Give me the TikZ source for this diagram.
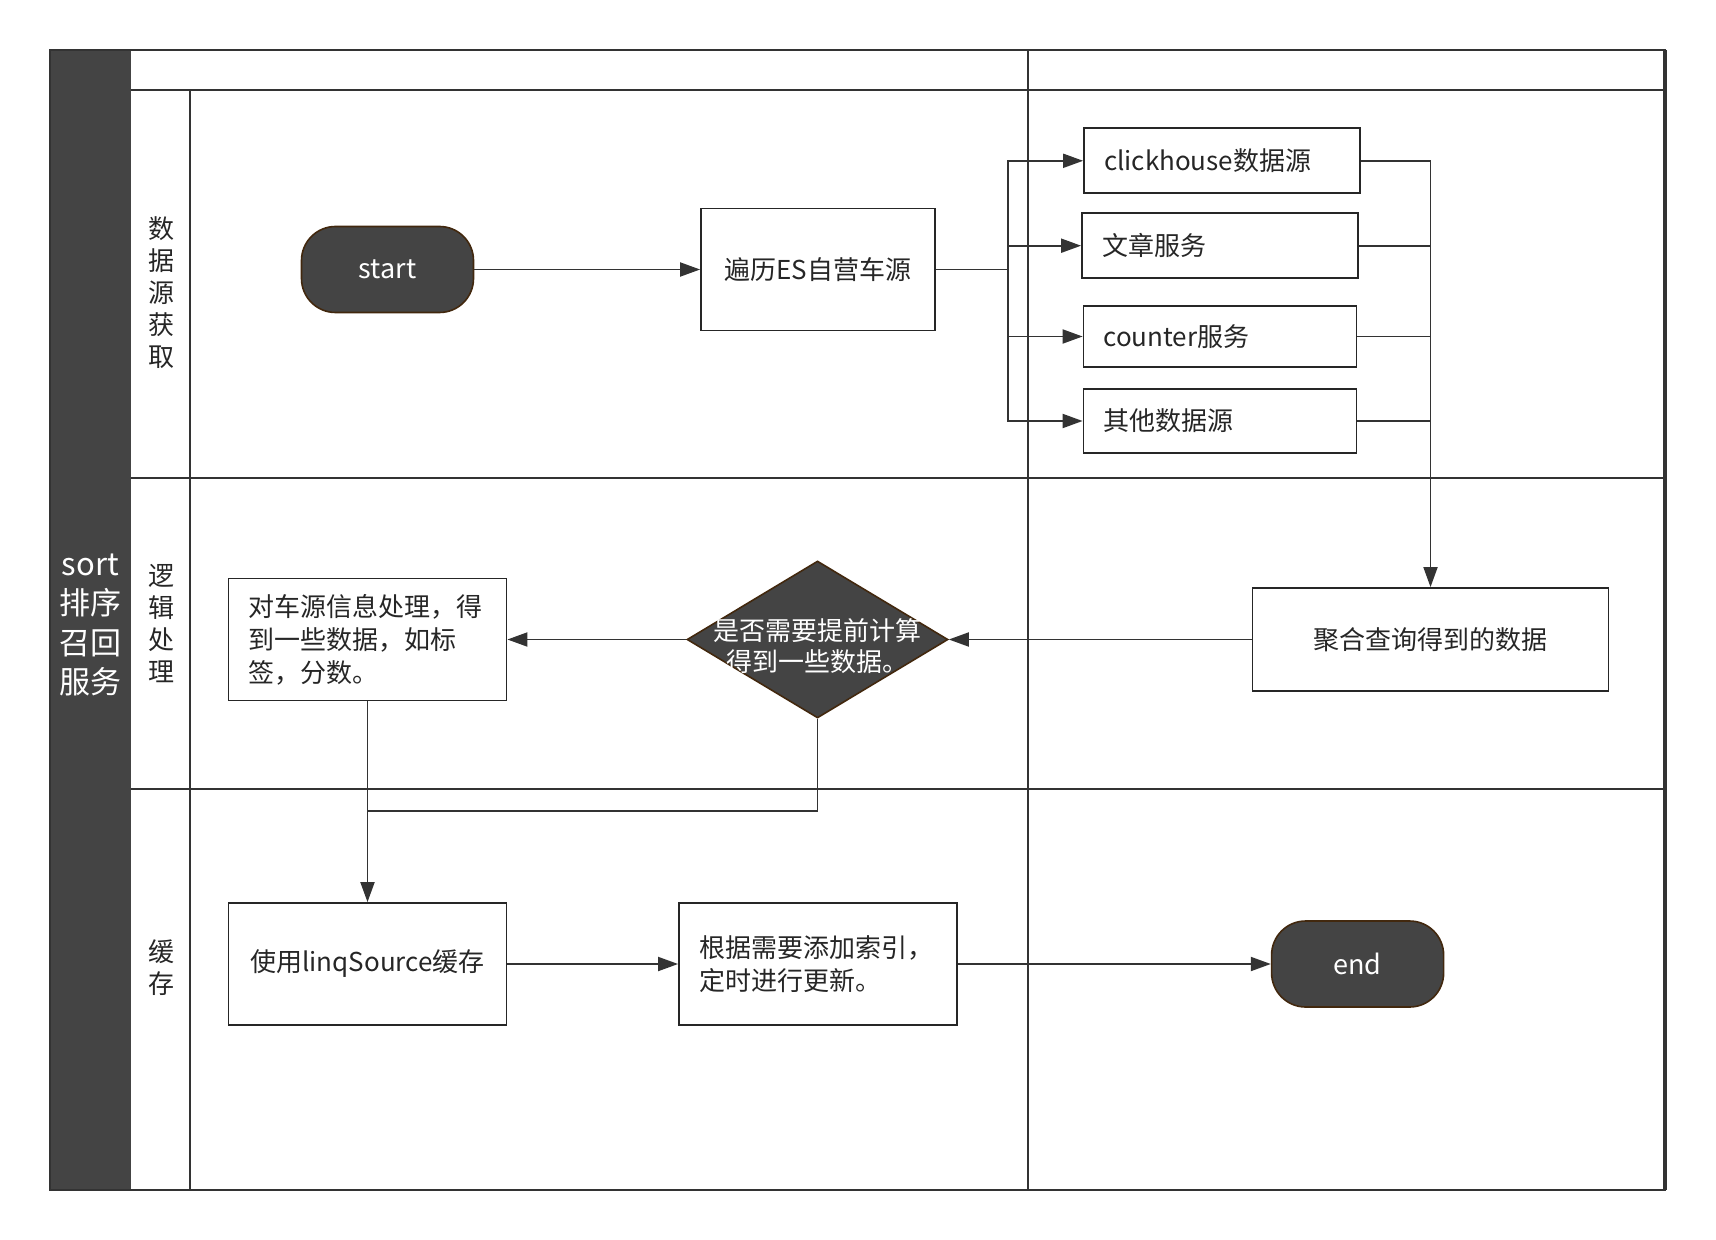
\documentclass[tikz,border=0pt]{standalone}
\usepackage{fontspec}
\setmainfont{Noto Sans CJK SC}
\usepackage{tikz}
\usetikzlibrary{arrows.meta,shapes,positioning}
\usepackage{xcolor}
\definecolor{sldark}{RGB}{68,68,68}
\definecolor{slline}{RGB}{51,51,51}
\definecolor{slbrown}{RGB}{66,40,14}
\definecolor{sltext}{RGB}{38,38,38}
\tikzstyle{frame} = [line width=1pt,color=slline]
\tikzstyle{link} = [line width=0.95pt,color=black!80]
\tikzstyle{arrow} = [link,-{Triangle[length=10pt,width=7pt]}]
\tikzstyle{process} = [rectangle, draw=black!85, line width=0.9pt, text=sltext, font=\fontsize{13}{16.5}\selectfont]
\tikzstyle{source} = [process, align=left, inner xsep=10pt]
\tikzstyle{terminal} = [rectangle, rounded corners=17pt, minimum width=86pt, minimum height=43pt, draw=slbrown, fill=sldark, text=white, line width=0.8pt, font=\fontsize{13.5}{16}\selectfont]
\tikzstyle{decision} = [diamond, draw=slbrown, fill=sldark, minimum width=130.5pt, minimum height=78.5pt, inner sep=0pt, line width=0.8pt]
\tikzstyle{lanetitle} = [align=center, text=sltext, font=\fontsize{13}{16}\selectfont]

\begin{document}
\begin{tikzpicture}[x=0.5pt,y=-0.5pt]
\useasboundingbox (0,0) rectangle (1716,1240);

% Pool and lanes
\fill[sldark] (50,50) rectangle (131,1190);
\draw[frame] (50,50) rectangle (1665,1190);
\draw[frame, line width=1.7pt] (1665,50) -- (1665,1190);
\draw[frame] (131,90) -- (1665,90);
\draw[frame] (131,478) -- (1665,478);
\draw[frame] (131,789) -- (1665,789);
\draw[frame] (190,90) -- (190,1190);
\draw[frame] (1028,50) -- (1028,1190);

% Titles
\node[align=center, text=white, font=\fontsize{15.5}{19.7}\selectfont] (pool) at (90.5,625) {sort\\排序\\召回\\服务};
\node[lanetitle] (lanesrc) at (161,293) {数\\据\\源\\获\\取};
\node[lanetitle] (lanelogic) at (161,624) {逻\\辑\\处\\理};
\node[lanetitle] (lanecache) at (161,968) {缓\\存};

% Data sources
\node[terminal] (start) at (387.5,269.5) {start};
\node[process, minimum width=117pt, minimum height=61pt] (iter) at (818,269.5) {遍历ES自营车源};
\node[source, text width=118pt, minimum height=32.5pt] (click) at (1222,160.8) {clickhouse数据源};
\node[source, text width=118pt, minimum height=32.3pt] (article) at (1220,245.7) {文章服务};
\node[source, text width=116.5pt, minimum height=30.2pt] (counter) at (1220,336.5) {counter服务};
\node[source, text width=116.5pt, minimum height=32.3pt] (other) at (1220,421) {其他数据源};

% Logic
\node[process, minimum width=178pt, minimum height=51.5pt] (agg) at (1430.5,639.5) {聚合查询得到的数据};
\node[decision] (check) at (817.5,639.5) {};
\node[align=center, text=white, font=\fontsize{13}{15.8}\selectfont] (checktext) at (817.5,646) {是否需要提前计算\\得到一些数据。};
\node[source, text width=119pt, minimum height=61pt] (proc) at (367.5,639.5) {对车源信息处理，得\\到一些数据，如标\\签，分数。};

% Cache
\node[process, minimum width=139pt, minimum height=61pt] (linq) at (367.5,964) {使用linqSource缓存};
\node[source, text width=119pt, minimum height=61pt] (update) at (818,964) {根据需要添加索引，\\定时进行更新。};
\node[terminal] (stop) at (1357.6,964) {end};

% Connectors
\coordinate (split) at (1008,269.5);
\coordinate (join) at (367.5,811);
\draw[arrow] (start) -- (iter);
\draw[link] (iter.east) -- (split);
\foreach \src in {click,article,counter,other}
  \draw[arrow] (split) |- (\src.west);
\foreach \src in {article,counter,other}
  \draw[link] (\src.east) -- (\src.east -| agg.north);
\draw[arrow] (click.east) -| (agg.north);
\draw[arrow] (agg) -- (check);
\draw[arrow] (check) -- (proc);
\draw[arrow] (proc) -- (linq);
\draw[link] (check.south) |- (join);
\draw[arrow] (linq) -- (update);
\draw[arrow] (update) -- (stop);
\end{tikzpicture}
\end{document}
